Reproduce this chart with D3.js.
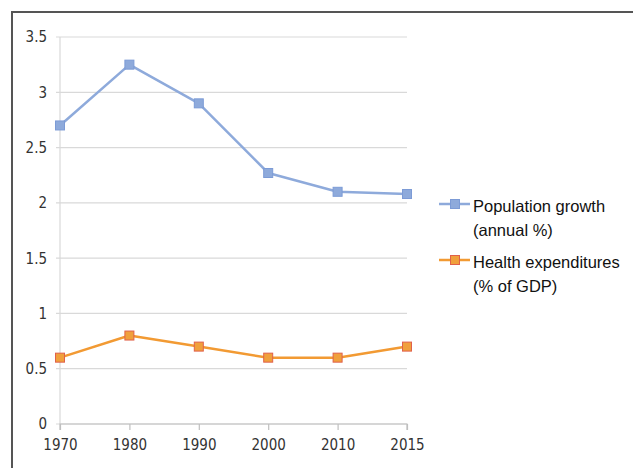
<!DOCTYPE html>
<html>
<head>
<meta charset="utf-8">
<script src="https://cdn.jsdelivr.net/npm/d3@7"></script>
<style>
  html, body { margin: 0; padding: 0; background: #fff; }
  svg { display: block; }
</style>
</head>
<body>
<svg id="chart" width="633" height="468"></svg>
<script>
// Years on the category axis
const years = ["1970", "1980", "1990", "2000", "2010", "2015"];
// Population growth (annual %)
const populationGrowth = [2.7, 3.25, 2.9, 2.27, 2.1, 2.08];
// Health expenditures (% of GDP)
const healthExpenditures = [0.6, 0.8, 0.7, 0.6, 0.6, 0.7];
// Value-axis ticks
const yTicks = [0, 0.5, 1, 1.5, 2, 2.5, 3, 3.5];

const seriesNames = [["Population growth", "(annual %)"], ["Health expenditures", "(% of GDP)"]];

const svg = d3.select("#chart");
const W = 633, H = 468;

// outer frame (top and left edges visible)
svg.append("path")
  .attr("d", `M12,${H + 5} L12,12 L${W + 5},12`)
  .attr("fill", "none")
  .attr("stroke", "#555")
  .attr("stroke-width", 2);

const x = d3.scalePoint().domain(years).range([60, 407]);
const y = d3.scaleLinear().domain([0, 3.5]).range([424, 37]);

const tickFont = "'DejaVu Sans Condensed', 'DejaVu Sans', sans-serif";

// horizontal gridlines
svg.append("g")
  .selectAll("line")
  .data(yTicks)
  .join("line")
  .attr("x1", 56).attr("x2", 407)
  .attr("y1", d => y(d)).attr("y2", d => y(d))
  .attr("stroke", "#d9d9d9")
  .attr("stroke-width", 1.2);

// vertical axis line
svg.append("line")
  .attr("x1", 60).attr("x2", 60)
  .attr("y1", y(3.5)).attr("y2", y(0))
  .attr("stroke", "#d9d9d9").attr("stroke-width", 1.2);

// y tick labels
svg.append("g")
  .selectAll("text")
  .data(yTicks)
  .join("text")
  .attr("x", 47)
  .attr("y", d => y(d))
  .attr("dy", "0.36em")
  .attr("text-anchor", "end")
  .attr("font-family", tickFont)
  .attr("font-size", 15)
  .attr("fill", "#333")
  .text(d => d);

// x axis with ticks
const xAxis = d3.axisBottom(x).tickSize(6).tickPadding(9);
const gx = svg.append("g")
  .attr("transform", `translate(0,${y(0)})`)
  .call(xAxis);
gx.select(".domain").attr("stroke", "#bfbfbf").attr("stroke-width", 1.2)
  .attr("d", `M60,6V0H407V6`);
gx.selectAll(".tick line").attr("stroke", "#bfbfbf").attr("stroke-width", 1.2);
gx.selectAll(".tick text")
  .attr("font-family", tickFont)
  .attr("font-size", 15)
  .attr("fill", "#333");

const series = [
  { values: populationGrowth, line: "#8eaadb", fill: "#8eaadb", edge: "#7c9bd6" },
  { values: healthExpenditures, line: "#f29a33", fill: "#f0a03c", edge: "#e0604a" }
];

const lineGen = d3.line().x((d, i) => x(years[i])).y(d => y(d));
const M = 9;

series.forEach(s => {
  svg.append("path")
    .datum(s.values)
    .attr("d", lineGen)
    .attr("fill", "none")
    .attr("stroke", s.line)
    .attr("stroke-width", 2.5)
    .attr("stroke-linejoin", "round");
  svg.append("g")
    .selectAll("rect")
    .data(s.values)
    .join("rect")
    .attr("x", (d, i) => x(years[i]) - M / 2)
    .attr("y", d => y(d) - M / 2)
    .attr("width", M).attr("height", M)
    .attr("fill", s.fill)
    .attr("stroke", s.edge)
    .attr("stroke-width", 1);
});

// legend
const legendY = [204, 260];
series.forEach((s, i) => {
  const g = svg.append("g");
  const cy = legendY[i];
  g.append("line")
    .attr("x1", 439).attr("x2", 470)
    .attr("y1", cy).attr("y2", cy)
    .attr("stroke", s.line).attr("stroke-width", 2.5);
  g.append("rect")
    .attr("x", 455 - M / 2).attr("y", cy - M / 2)
    .attr("width", M).attr("height", M)
    .attr("fill", s.fill).attr("stroke", s.edge).attr("stroke-width", 1);
  const t = g.append("text")
    .attr("font-family", "'Liberation Sans', Arial, sans-serif")
    .attr("font-size", 16.5)
    .attr("fill", "#111");
  seriesNames[i].forEach((line, j) => {
    t.append("tspan")
      .attr("x", 473)
      .attr("y", cy + 8 + j * 23.5)
      .text(line);
  });
});
</script>
</body>
</html>
